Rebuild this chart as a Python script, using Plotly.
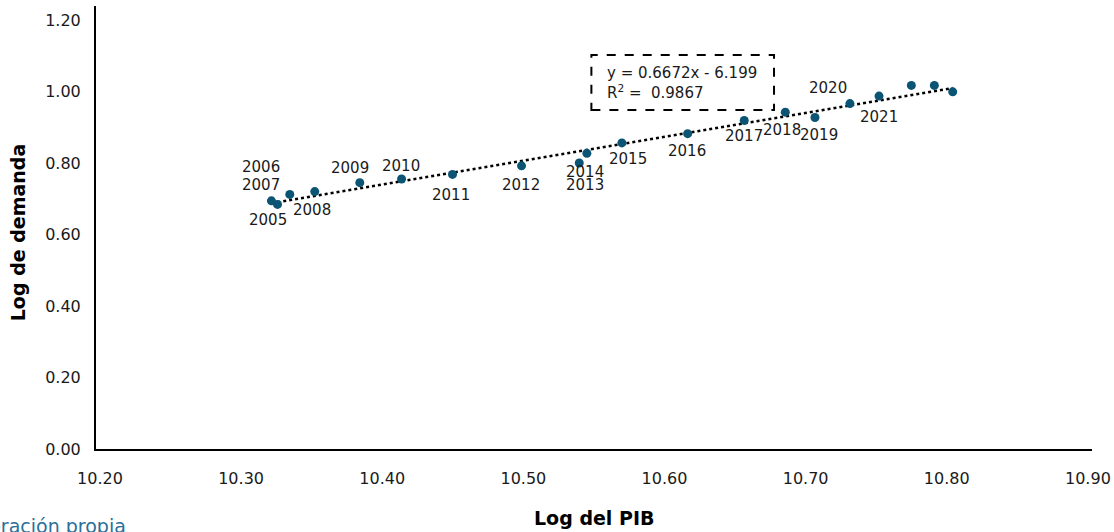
import plotly.graph_objects as go

# ---- data ----
years = ["2005", "2006", "2007", "2008", "2009", "2010", "2011", "2012", "2013",
         "2014", "2015", "2016", "2017", "2018", "2019", "2020", "2021", "", "", ""]
log_pib = [10.3258, 10.3215, 10.3345, 10.3522, 10.3841, 10.4137, 10.4498, 10.4987,
           10.5396, 10.5450, 10.5698, 10.6164, 10.6565, 10.6856, 10.7066, 10.7314,
           10.7520, 10.7749, 10.7912, 10.8042]
log_demanda = [0.684, 0.694, 0.712, 0.720, 0.745, 0.755, 0.768, 0.792, 0.800,
               0.827, 0.856, 0.882, 0.919, 0.942, 0.927, 0.966, 0.987, 1.017,
               1.017, 0.999]
slope = 0.6672
intercept = -6.199
r2 = 0.9867
x_ticks = [10.20, 10.30, 10.40, 10.50, 10.60, 10.70, 10.80, 10.90]
y_ticks = [0.00, 0.20, 0.40, 0.60, 0.80, 1.00, 1.20]

# label offsets in pixels (layout only)
label_shift = {
    "2005": (-10, -16), "2006": (-10, 34), "2007": (-29, 9), "2008": (-3, -18),
    "2009": (-10, 15), "2010": (-1, 13), "2011": (-2, -21), "2012": (-1, -19),
    "2013": (6, -22), "2014": (-2, -19), "2015": (6, -16), "2016": (-1, -17),
    "2017": (0, -16), "2018": (-3, -18), "2019": (4, -17), "2020": (-22, 16),
    "2021": (0, -21),
}

FONT = "DejaVu Sans"
DOT = "#0b5474"
TXT = "#1a1a1a"

fig = go.Figure()

x0, x1 = min(log_pib), max(log_pib)
fig.add_trace(go.Scatter(
    x=[x0, x1], y=[slope * x0 + intercept, slope * x1 + intercept],
    mode="lines", line=dict(color="black", width=2.5, dash="dot"),
    hoverinfo="skip", showlegend=False))

fig.add_trace(go.Scatter(
    x=log_pib, y=log_demanda, mode="markers",
    marker=dict(color=DOT, size=9), showlegend=False))

annotations = []
for xv, yv, yr in zip(log_pib, log_demanda, years):
    if not yr:
        continue
    dx, dy = label_shift[yr]
    annotations.append(dict(x=xv, y=yv, text=yr, showarrow=False,
                            xshift=dx, yshift=dy,
                            font=dict(family=FONT, size=15, color=TXT)))

# equation box
annotations.append(dict(x=10.5575, y=1.053, xanchor="left", yanchor="middle",
                        text=f"y = {slope}x - {abs(intercept)}", showarrow=False,
                        font=dict(family=FONT, size=15, color=TXT)))
annotations.append(dict(x=10.5575, y=0.999, xanchor="left", yanchor="middle",
                        text=f"R<sup>2</sup> =  {r2}", showarrow=False,
                        font=dict(family=FONT, size=15, color=TXT)))

# axis titles and source
annotations.append(dict(xref="paper", yref="paper", x=-0.078, y=0.49,
                        text="<b>Log de demanda</b>", textangle=-90, showarrow=False,
                        xanchor="center", yanchor="middle",
                        font=dict(family=FONT, size=19, color="black")))
annotations.append(dict(xref="paper", yref="paper", x=0.50, y=-0.155,
                        text="<b>Log del PIB</b>", showarrow=False,
                        xanchor="center", yanchor="middle",
                        font=dict(family=FONT, size=19, color="black")))
annotations.append(dict(xref="paper", yref="paper", x=0.0321, y=-0.173,
                        text="Fuente: Elaboración propia", showarrow=False,
                        xanchor="right", yanchor="middle",
                        font=dict(family=FONT, size=19, color="#2b6f99")))

fig.add_shape(type="rect", x0=10.5482, x1=10.6776, y0=0.948, y1=1.102,
              line=dict(color="black", width=2, dash="dash"), fillcolor="rgba(0,0,0,0)")

fig.update_layout(
    width=1114, height=532,
    margin=dict(l=96, r=22, t=6, b=83, autoexpand=False),
    paper_bgcolor="white", plot_bgcolor="white",
    annotations=annotations,
    font=dict(family=FONT, size=15, color=TXT),
    xaxis=dict(range=[10.1972, 10.9029], tickvals=x_ticks,
               ticktext=[f"{v:.2f}" for v in x_ticks], automargin=False,
               showgrid=False, zeroline=False, showline=True,
               linecolor="black", linewidth=2, ticks="", ticklabelstandoff=14,
               tickfont=dict(family=FONT, size=16, color=TXT)),
    yaxis=dict(range=[0, 1.239], tickvals=y_ticks,
               ticktext=[f"{v:.2f}" for v in y_ticks], automargin=False,
               showgrid=False, zeroline=False, showline=True,
               linecolor="black", linewidth=2, ticks="", ticklabelstandoff=10,
               tickfont=dict(family=FONT, size=16, color=TXT)),
)

fig.write_html("out.html")
